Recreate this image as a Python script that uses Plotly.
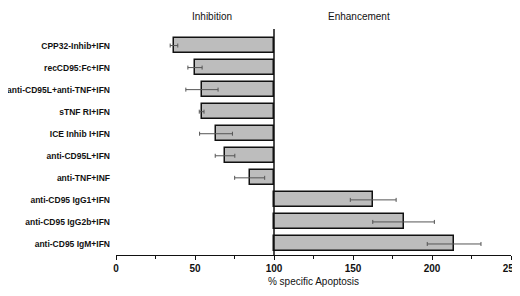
import plotly.graph_objects as go

categories = [
    "CPP32-Inhib+IFN",
    "recCD95:Fc+IFN",
    "anti-CD95L+anti-TNF+IFN",
    "sTNF RI+IFN",
    "ICE Inhib I+IFN",
    "anti-CD95L+IFN",
    "anti-TNF+INF",
    "anti-CD95 IgG1+IFN",
    "anti-CD95 IgG2b+IFN",
    "anti-CD95 IgM+IFN",
]
values = [36.7, 50.0, 54.4, 54.2, 63.3, 69.0, 84.6, 162.8, 182.0, 214.0]
errors = [2.4, 4.5, 10.2, 1.5, 10.4, 6.2, 9.5, 14.5, 19.5, 17.0]
baseline = 100
x_ticks = [0, 50, 100, 150, 200, 250]

positions = list(range(len(categories)))

fig = go.Figure()
fig.add_trace(go.Bar(
    y=positions,
    x=[v - baseline for v in values],
    base=baseline,
    orientation="h",
    width=0.68,
    marker=dict(color="#bdbdbd", line=dict(color="#111111", width=1.5)),
    error_x=dict(type="data", array=errors, visible=True,
                 color="#555555", thickness=1, width=2),
    showlegend=False,
    hoverinfo="skip",
))

fig.add_shape(type="line", xref="x", yref="paper",
              x0=baseline, x1=baseline, y0=0, y1=1,
              line=dict(color="#111111", width=1.5))

fig.add_annotation(text="Inhibition", xref="x", yref="paper",
                   x=61, y=1.088, yanchor="top", showarrow=False,
                   font=dict(family="Liberation Sans, Arial", size=10, color="#111"))
fig.add_annotation(text="Enhancement", xref="x", yref="paper",
                   x=154, y=1.088, yanchor="top", showarrow=False,
                   font=dict(family="Liberation Sans, Arial", size=10, color="#111"))

fig.update_layout(
    width=512, height=288,
    margin=dict(l=108, r=9, t=21, b=41, autoexpand=False),
    paper_bgcolor="white", plot_bgcolor="white",
    font=dict(family="Liberation Sans, Arial", color="#111"),
    bargap=0,
)
fig.update_xaxes(
    automargin=False,
    range=[0, 250], tickvals=x_ticks, ticktext=[str(t) for t in x_ticks],
    showline=True, linecolor="#111", linewidth=1.3,
    ticks="outside", ticklen=4, tickcolor="#111", tickwidth=1.3,
    minor=dict(ticks="outside", ticklen=3, tickcolor="#111", tickwidth=1, dtick=25),
    showgrid=False, zeroline=False,
    tickfont=dict(size=10, family="Liberation Sans, Arial", weight="bold"),
    title=dict(text="% specific Apoptosis", standoff=4,
               font=dict(size=10, family="Liberation Sans, Arial")),
)
fig.update_yaxes(
    automargin=False,
    range=[9.5, -0.75], tickvals=positions, ticktext=categories,
    showline=False, ticks="", showgrid=False, zeroline=False,
    ticklabelstandoff=5,
    tickfont=dict(size=8.5, family="Liberation Sans, Arial", weight="bold"),
)

fig.write_html("out.html")
